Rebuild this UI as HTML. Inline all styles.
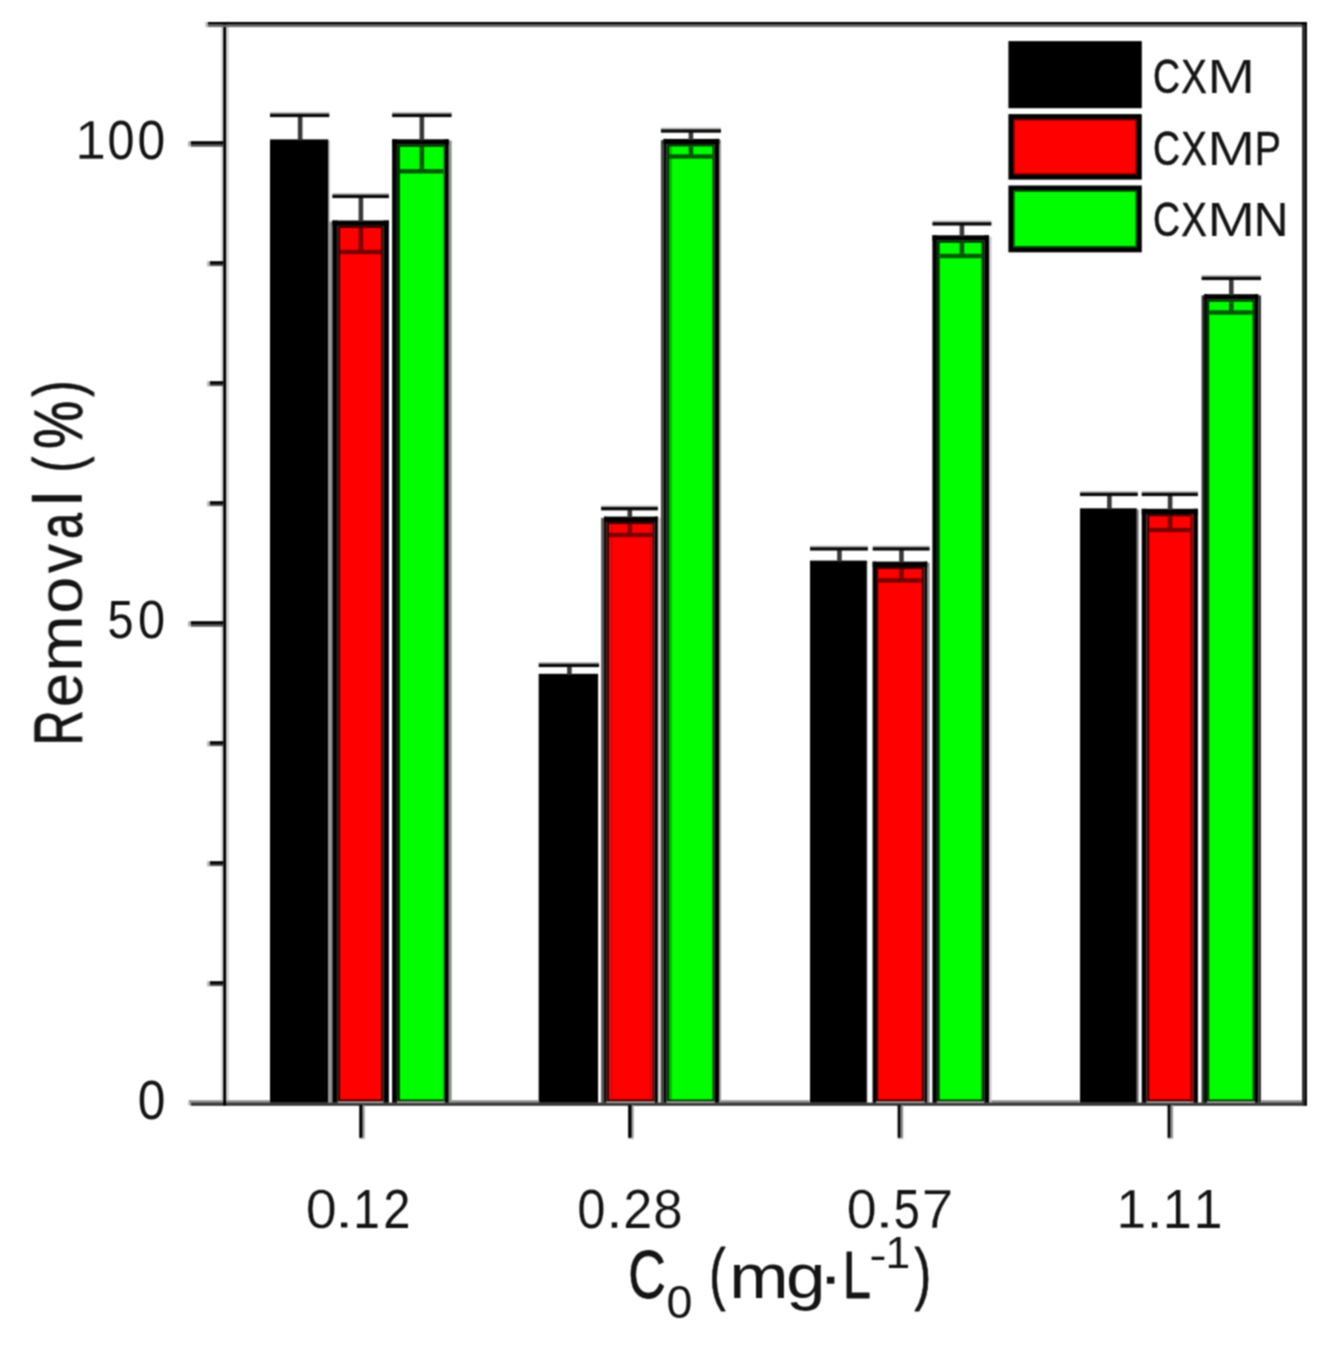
<!DOCTYPE html>
<html lang="en">
<head>
<meta charset="utf-8">
<title>Removal (%) vs C0 (mg·L-1)</title>
<style>
html,body{margin:0;padding:0;background:#fff;}
body{width:1329px;height:1345px;overflow:hidden;}
svg{display:block;font-family:"Liberation Sans", sans-serif;}
text{white-space:pre;}
</style>
</head>
<body>
<svg width="1329" height="1345" viewBox="0 0 1329 1345">
<defs><filter id="soft" color-interpolation-filters="sRGB" x="0" y="0" width="100%" height="100%" filterUnits="userSpaceOnUse" primitiveUnits="userSpaceOnUse"><feConvolveMatrix order="3" kernelMatrix="1 2 1 2 4 2 1 2 1" divisor="16" edgeMode="duplicate" preserveAlpha="false"/></filter></defs>
<rect x="0" y="0" width="1329" height="1345" fill="#fff"/>
<g filter="url(#soft)">
<rect x="270.00" y="139.40" width="58.30" height="963.40" fill="#000"/>
<rect x="328.30" y="221.50" width="4.00" height="881.30" fill="#949494"/>
<rect x="328.30" y="140.40" width="1.20" height="81.10" fill="#8c8c8c"/>
<rect x="332.30" y="220.50" width="5.40" height="882.30" fill="#000"/>
<rect x="383.40" y="220.50" width="5.50" height="882.30" fill="#000"/>
<rect x="332.30" y="220.50" width="56.60" height="5.40" fill="#000"/>
<rect x="337.70" y="225.70" width="45.70" height="875.90" fill="#400000"/>
<rect x="340.10" y="228.00" width="40.90" height="871.50" fill="#fe0000"/>
<rect x="392.10" y="139.30" width="4.80" height="963.50" fill="#000"/>
<rect x="444.60" y="139.30" width="4.20" height="963.50" fill="#000"/>
<rect x="448.80" y="140.50" width="2.80" height="962.30" fill="#8a8f8a"/>
<rect x="392.10" y="139.30" width="56.70" height="5.40" fill="#000"/>
<rect x="396.90" y="144.50" width="47.70" height="957.10" fill="#003600"/>
<rect x="400.00" y="146.80" width="43.60" height="952.70" fill="#00fe00"/>
<rect x="297.85" y="115.00" width="4.60" height="25.40" fill="#383838"/>
<rect x="270.00" y="112.00" width="59.30" height="1.90" fill="#bdbdbd"/>
<rect x="270.00" y="113.70" width="59.30" height="3.40" fill="#0a0a0a"/>
<rect x="358.60" y="196.00" width="4.60" height="25.50" fill="#383838"/>
<rect x="332.30" y="193.00" width="56.60" height="1.90" fill="#bdbdbd"/>
<rect x="332.30" y="194.70" width="56.60" height="3.40" fill="#0a0a0a"/>
<rect x="358.60" y="228.00" width="4.60" height="24.00" fill="#7a0000"/>
<rect x="340.10" y="249.80" width="40.90" height="4.40" fill="#7a0000"/>
<rect x="419.55" y="115.00" width="4.60" height="25.30" fill="#383838"/>
<rect x="392.10" y="112.00" width="59.50" height="1.90" fill="#bdbdbd"/>
<rect x="392.10" y="113.70" width="59.50" height="3.40" fill="#0a0a0a"/>
<rect x="419.55" y="146.80" width="4.60" height="24.50" fill="#005800"/>
<rect x="400.00" y="169.10" width="43.60" height="4.40" fill="#005800"/>
<rect x="538.70" y="673.80" width="59.40" height="429.00" fill="#000"/>
<rect x="601.10" y="517.80" width="3.00" height="585.00" fill="#585858"/>
<rect x="604.10" y="516.60" width="2.20" height="586.20" fill="#000"/>
<rect x="654.60" y="516.60" width="3.30" height="586.20" fill="#000"/>
<rect x="604.10" y="516.60" width="53.80" height="5.40" fill="#000"/>
<rect x="606.30" y="521.80" width="48.30" height="579.80" fill="#400000"/>
<rect x="609.00" y="524.10" width="2.60" height="575.40" fill="#dd1515"/>
<rect x="611.60" y="524.10" width="38.80" height="575.40" fill="#fe0000"/>
<rect x="650.40" y="524.10" width="2.20" height="575.40" fill="#dd1515"/>
<rect x="657.90" y="517.60" width="3.00" height="585.20" fill="#cfcfcf"/>
<rect x="660.90" y="140.10" width="2.60" height="962.70" fill="#444"/>
<rect x="663.50" y="138.90" width="3.00" height="963.90" fill="#000"/>
<rect x="714.50" y="138.90" width="4.90" height="963.90" fill="#000"/>
<rect x="719.40" y="140.10" width="1.60" height="962.70" fill="#9a9a9a"/>
<rect x="663.50" y="138.90" width="55.90" height="5.40" fill="#000"/>
<rect x="666.50" y="144.10" width="48.00" height="957.50" fill="#003600"/>
<rect x="669.20" y="146.40" width="2.60" height="953.10" fill="#00c400"/>
<rect x="671.80" y="146.40" width="40.70" height="953.10" fill="#00fe00"/>
<rect x="567.10" y="665.00" width="4.60" height="9.80" fill="#383838"/>
<rect x="538.70" y="662.00" width="60.40" height="1.90" fill="#bdbdbd"/>
<rect x="538.70" y="663.70" width="60.40" height="3.40" fill="#0a0a0a"/>
<rect x="627.50" y="508.30" width="4.60" height="9.30" fill="#383838"/>
<rect x="601.10" y="505.30" width="56.80" height="1.90" fill="#bdbdbd"/>
<rect x="601.10" y="507.00" width="56.80" height="3.40" fill="#0a0a0a"/>
<rect x="627.50" y="524.10" width="4.60" height="10.90" fill="#7a0000"/>
<rect x="609.00" y="532.80" width="43.60" height="4.40" fill="#7a0000"/>
<rect x="688.65" y="130.60" width="4.60" height="9.30" fill="#383838"/>
<rect x="660.90" y="127.60" width="60.10" height="1.90" fill="#bdbdbd"/>
<rect x="660.90" y="129.30" width="60.10" height="3.40" fill="#0a0a0a"/>
<rect x="688.65" y="146.40" width="4.60" height="10.10" fill="#005800"/>
<rect x="669.20" y="154.30" width="43.30" height="4.40" fill="#005800"/>
<rect x="810.00" y="560.60" width="56.90" height="542.20" fill="#000"/>
<rect x="866.90" y="562.60" width="1.10" height="540.20" fill="#d8d8d8"/>
<rect x="872.00" y="562.60" width="1.10" height="540.20" fill="#d0d0d0"/>
<rect x="866.90" y="561.60" width="1.20" height="1.00" fill="#8c8c8c"/>
<rect x="872.70" y="561.60" width="3.30" height="541.20" fill="#000"/>
<rect x="924.50" y="561.60" width="2.80" height="541.20" fill="#000"/>
<rect x="927.30" y="562.80" width="2.30" height="540.00" fill="#888"/>
<rect x="872.70" y="561.60" width="54.60" height="5.40" fill="#000"/>
<rect x="876.00" y="566.80" width="48.50" height="534.80" fill="#400000"/>
<rect x="878.20" y="569.10" width="43.50" height="530.40" fill="#fe0000"/>
<rect x="932.40" y="235.30" width="4.50" height="867.50" fill="#000"/>
<rect x="984.30" y="235.30" width="4.70" height="867.50" fill="#000"/>
<rect x="989.00" y="236.50" width="2.40" height="866.30" fill="#c4c4c4"/>
<rect x="932.40" y="235.30" width="56.60" height="5.40" fill="#000"/>
<rect x="936.90" y="240.50" width="47.40" height="861.10" fill="#003600"/>
<rect x="939.70" y="242.80" width="41.80" height="856.70" fill="#00fe00"/>
<rect x="837.15" y="548.50" width="4.60" height="13.10" fill="#383838"/>
<rect x="810.00" y="545.50" width="57.90" height="1.90" fill="#bdbdbd"/>
<rect x="810.00" y="547.20" width="57.90" height="3.40" fill="#0a0a0a"/>
<rect x="899.15" y="548.50" width="4.60" height="14.10" fill="#383838"/>
<rect x="872.70" y="545.50" width="56.90" height="1.90" fill="#bdbdbd"/>
<rect x="872.70" y="547.20" width="56.90" height="3.40" fill="#0a0a0a"/>
<rect x="899.15" y="569.10" width="4.60" height="11.40" fill="#7a0000"/>
<rect x="878.20" y="578.30" width="43.50" height="4.40" fill="#7a0000"/>
<rect x="959.60" y="223.50" width="4.60" height="12.80" fill="#383838"/>
<rect x="932.40" y="220.50" width="59.00" height="1.90" fill="#bdbdbd"/>
<rect x="932.40" y="222.20" width="59.00" height="3.40" fill="#0a0a0a"/>
<rect x="959.60" y="242.80" width="4.60" height="13.20" fill="#005800"/>
<rect x="939.70" y="253.80" width="41.80" height="4.40" fill="#005800"/>
<rect x="1080.00" y="508.30" width="56.80" height="594.50" fill="#000"/>
<rect x="1136.80" y="509.80" width="2.00" height="593.00" fill="#7a7a7a"/>
<rect x="1136.80" y="509.30" width="1.20" height="0.50" fill="#8c8c8c"/>
<rect x="1141.70" y="508.80" width="4.80" height="594.00" fill="#000"/>
<rect x="1193.40" y="508.80" width="4.50" height="594.00" fill="#000"/>
<rect x="1141.70" y="508.80" width="56.20" height="5.40" fill="#000"/>
<rect x="1146.50" y="514.00" width="46.90" height="587.60" fill="#400000"/>
<rect x="1149.30" y="516.30" width="40.70" height="583.20" fill="#fe0000"/>
<rect x="1190.00" y="514.00" width="3.40" height="587.60" fill="#8a0000"/>
<rect x="1201.60" y="295.40" width="2.50" height="807.40" fill="#2c322c"/>
<rect x="1204.10" y="294.20" width="2.80" height="808.60" fill="#000"/>
<rect x="1254.90" y="294.20" width="3.40" height="808.60" fill="#000"/>
<rect x="1258.30" y="295.40" width="2.70" height="807.40" fill="#333"/>
<rect x="1204.10" y="294.20" width="54.20" height="5.40" fill="#000"/>
<rect x="1206.90" y="299.40" width="48.00" height="802.20" fill="#003600"/>
<rect x="1209.20" y="301.70" width="43.40" height="797.80" fill="#00fe00"/>
<rect x="1107.10" y="494.00" width="4.60" height="15.30" fill="#383838"/>
<rect x="1080.00" y="491.00" width="57.80" height="1.90" fill="#bdbdbd"/>
<rect x="1080.00" y="492.70" width="57.80" height="3.40" fill="#0a0a0a"/>
<rect x="1167.80" y="494.00" width="4.60" height="15.80" fill="#383838"/>
<rect x="1141.70" y="491.00" width="56.20" height="1.90" fill="#bdbdbd"/>
<rect x="1141.70" y="492.70" width="56.20" height="3.40" fill="#0a0a0a"/>
<rect x="1167.80" y="516.30" width="4.60" height="13.70" fill="#7a0000"/>
<rect x="1149.30" y="527.80" width="40.70" height="4.40" fill="#7a0000"/>
<rect x="1229.00" y="278.00" width="4.60" height="17.20" fill="#383838"/>
<rect x="1201.60" y="275.00" width="59.40" height="1.90" fill="#bdbdbd"/>
<rect x="1201.60" y="276.70" width="59.40" height="3.40" fill="#0a0a0a"/>
<rect x="1229.00" y="301.70" width="4.60" height="10.80" fill="#005800"/>
<rect x="1209.20" y="310.30" width="43.40" height="4.40" fill="#005800"/>
<rect x="188.60" y="1100.20" width="81.30" height="2.70" fill="#909090"/>
<rect x="451.50" y="1100.20" width="87.70" height="2.70" fill="#909090"/>
<rect x="720.80" y="1100.20" width="88.90" height="2.70" fill="#909090"/>
<rect x="991.30" y="1100.20" width="88.30" height="2.70" fill="#909090"/>
<rect x="1261.20" y="1100.20" width="45.80" height="2.70" fill="#909090"/>
<rect x="188.20" y="1102.70" width="2.60" height="2.90" fill="#bbbbbb"/>
<rect x="190.80" y="1102.60" width="1116.20" height="3.20" fill="#383838"/>
<rect x="220.90" y="21.60" width="2.30" height="1078.60" fill="#d6d6d6"/>
<rect x="226.10" y="21.60" width="2.70" height="1078.60" fill="#d0d0d0"/>
<rect x="223.20" y="22.00" width="2.90" height="1083.60" fill="#000"/>
<rect x="1302.00" y="22.00" width="2.20" height="1083.60" fill="#333"/>
<rect x="1304.20" y="22.00" width="2.80" height="1083.60" fill="#0a0a0a"/>
<rect x="208.00" y="22.00" width="1099.00" height="2.70" fill="#000"/>
<rect x="208.00" y="24.70" width="1094.00" height="2.40" fill="#6c6c6c"/>
<rect x="205.40" y="22.00" width="2.60" height="5.10" fill="#bbbbbb"/>
<rect x="207.10" y="981.20" width="2.80" height="5.20" fill="#b4b4b4"/>
<rect x="209.90" y="981.20" width="13.30" height="2.80" fill="#000"/>
<rect x="209.90" y="984.00" width="13.30" height="2.10" fill="#505050"/>
<rect x="207.10" y="861.20" width="2.80" height="5.20" fill="#b4b4b4"/>
<rect x="209.90" y="861.20" width="13.30" height="2.80" fill="#000"/>
<rect x="209.90" y="864.00" width="13.30" height="2.10" fill="#505050"/>
<rect x="207.10" y="741.20" width="2.80" height="5.20" fill="#b4b4b4"/>
<rect x="209.90" y="741.20" width="13.30" height="2.80" fill="#000"/>
<rect x="209.90" y="744.00" width="13.30" height="2.10" fill="#505050"/>
<rect x="188.00" y="621.20" width="2.80" height="5.20" fill="#b4b4b4"/>
<rect x="190.80" y="621.20" width="32.40" height="2.80" fill="#000"/>
<rect x="190.80" y="624.00" width="32.40" height="2.70" fill="#505050"/>
<rect x="207.10" y="501.20" width="2.80" height="5.20" fill="#b4b4b4"/>
<rect x="209.90" y="501.20" width="13.30" height="2.80" fill="#000"/>
<rect x="209.90" y="504.00" width="13.30" height="2.10" fill="#505050"/>
<rect x="207.10" y="381.20" width="2.80" height="5.20" fill="#b4b4b4"/>
<rect x="209.90" y="381.20" width="13.30" height="2.80" fill="#000"/>
<rect x="209.90" y="384.00" width="13.30" height="2.10" fill="#505050"/>
<rect x="207.10" y="261.20" width="2.80" height="5.20" fill="#b4b4b4"/>
<rect x="209.90" y="261.20" width="13.30" height="2.80" fill="#000"/>
<rect x="209.90" y="264.00" width="13.30" height="2.10" fill="#505050"/>
<rect x="188.00" y="141.20" width="2.80" height="5.20" fill="#b4b4b4"/>
<rect x="190.80" y="141.20" width="32.40" height="2.80" fill="#000"/>
<rect x="190.80" y="144.00" width="32.40" height="2.70" fill="#505050"/>
<rect x="359.25" y="1105.00" width="2.85" height="32.90" fill="#000"/>
<rect x="362.10" y="1105.00" width="1.30" height="32.90" fill="#4a4a4a"/>
<rect x="363.40" y="1105.00" width="1.40" height="32.90" fill="#9a9a9a"/>
<rect x="359.25" y="1137.90" width="5.55" height="1.30" fill="#c8c8c8"/>
<rect x="628.15" y="1105.00" width="2.85" height="32.90" fill="#000"/>
<rect x="631.00" y="1105.00" width="1.30" height="32.90" fill="#4a4a4a"/>
<rect x="632.30" y="1105.00" width="1.40" height="32.90" fill="#9a9a9a"/>
<rect x="628.15" y="1137.90" width="5.55" height="1.30" fill="#c8c8c8"/>
<rect x="897.65" y="1105.00" width="2.85" height="32.90" fill="#000"/>
<rect x="900.50" y="1105.00" width="1.30" height="32.90" fill="#4a4a4a"/>
<rect x="901.80" y="1105.00" width="1.40" height="32.90" fill="#9a9a9a"/>
<rect x="897.65" y="1137.90" width="5.55" height="1.30" fill="#c8c8c8"/>
<rect x="1167.55" y="1105.00" width="2.85" height="32.90" fill="#000"/>
<rect x="1170.40" y="1105.00" width="1.30" height="32.90" fill="#4a4a4a"/>
<rect x="1171.70" y="1105.00" width="1.40" height="32.90" fill="#9a9a9a"/>
<rect x="1167.55" y="1137.90" width="5.55" height="1.30" fill="#c8c8c8"/>
<rect x="1008.40" y="41.10" width="133.40" height="67.10" fill="#000"/>
<rect x="1008.40" y="114.10" width="133.40" height="65.50" fill="#000"/>
<rect x="1013.00" y="118.70" width="124.20" height="56.30" fill="#6a0000"/>
<rect x="1014.80" y="120.50" width="120.60" height="52.70" fill="#fe0000"/>
<rect x="1008.40" y="185.50" width="133.40" height="66.80" fill="#000"/>
<rect x="1013.00" y="190.10" width="124.20" height="57.60" fill="#005a00"/>
<rect x="1014.80" y="191.90" width="120.60" height="54.00" fill="#00fe00"/>
<text fill="#141414" stroke-linejoin="round"><tspan x="1153.12" y="93.00" font-size="48.80" textLength="26.99" lengthAdjust="spacingAndGlyphs" stroke="#141414" stroke-width="0.63">C</tspan><tspan x="1181.13" y="93.00" font-size="48.80" textLength="25.57" lengthAdjust="spacingAndGlyphs" stroke="#141414" stroke-width="0.59">X</tspan><tspan x="1207.28" y="93.00" font-size="48.80" textLength="47.94" lengthAdjust="spacingAndGlyphs" stroke="#fff" stroke-width="0.20">M</tspan></text>
<text fill="#141414" stroke-linejoin="round"><tspan x="1153.12" y="165.30" font-size="48.80" textLength="26.99" lengthAdjust="spacingAndGlyphs" stroke="#141414" stroke-width="0.63">C</tspan><tspan x="1181.13" y="165.30" font-size="48.80" textLength="25.57" lengthAdjust="spacingAndGlyphs" stroke="#141414" stroke-width="0.59">X</tspan><tspan x="1207.28" y="165.30" font-size="48.80" textLength="47.94" lengthAdjust="spacingAndGlyphs" stroke="#fff" stroke-width="0.20">M</tspan><tspan x="1254.74" y="165.30" font-size="48.80" textLength="26.26" lengthAdjust="spacingAndGlyphs" stroke="#141414" stroke-width="0.54">P</tspan></text>
<text fill="#141414" stroke-linejoin="round"><tspan x="1153.12" y="236.10" font-size="48.80" textLength="26.99" lengthAdjust="spacingAndGlyphs" stroke="#141414" stroke-width="0.63">C</tspan><tspan x="1181.13" y="236.10" font-size="48.80" textLength="25.57" lengthAdjust="spacingAndGlyphs" stroke="#141414" stroke-width="0.59">X</tspan><tspan x="1207.28" y="236.10" font-size="48.80" textLength="47.94" lengthAdjust="spacingAndGlyphs" stroke="#fff" stroke-width="0.20">M</tspan><tspan x="1253.86" y="236.10" font-size="48.80" textLength="34.66" lengthAdjust="spacingAndGlyphs" stroke="#141414" stroke-width="0.19">N</tspan></text>
<text fill="#141414" stroke-linejoin="round"><tspan x="75.09" y="158.95" font-size="55.79" textLength="30.90" lengthAdjust="spacingAndGlyphs" stroke="#fff" stroke-width="0.36">1</tspan><tspan x="107.40" y="158.95" font-size="55.79" textLength="26.99" lengthAdjust="spacingAndGlyphs">0</tspan><tspan x="137.56" y="158.95" font-size="55.79" textLength="27.69" lengthAdjust="spacingAndGlyphs">0</tspan></text>
<text fill="#141414" stroke-linejoin="round"><tspan x="107.43" y="638.17" font-size="54.52" textLength="26.04" lengthAdjust="spacingAndGlyphs">5</tspan><tspan x="137.90" y="638.17" font-size="54.52" textLength="27.11" lengthAdjust="spacingAndGlyphs">0</tspan></text>
<text fill="#141414" stroke-linejoin="round"><tspan x="137.66" y="1118.96" font-size="54.80" textLength="27.69" lengthAdjust="spacingAndGlyphs">0</tspan></text>
<text fill="#141414" stroke-linejoin="round"><tspan x="305.74" y="1227.75" font-size="55.79" textLength="31.03" lengthAdjust="spacingAndGlyphs" stroke="#fff" stroke-width="0.37">0</tspan><tspan x="332.36" y="1227.75" font-size="55.79" textLength="23.88" lengthAdjust="spacingAndGlyphs" stroke="#fff" stroke-width="1.18">.</tspan><tspan x="353.16" y="1227.75" font-size="55.79" textLength="26.57" lengthAdjust="spacingAndGlyphs">1</tspan><tspan x="383.24" y="1227.75" font-size="55.79" textLength="27.22" lengthAdjust="spacingAndGlyphs">2</tspan></text>
<text fill="#141414" stroke-linejoin="round"><tspan x="577.33" y="1227.75" font-size="55.79" textLength="28.23" lengthAdjust="spacingAndGlyphs" stroke="#fff" stroke-width="0.17">0</tspan><tspan x="605.18" y="1227.75" font-size="55.79" textLength="18.33" lengthAdjust="spacingAndGlyphs" stroke="#fff" stroke-width="0.58">.</tspan><tspan x="623.16" y="1227.75" font-size="55.79" textLength="29.09" lengthAdjust="spacingAndGlyphs" stroke="#fff" stroke-width="0.23">2</tspan><tspan x="653.29" y="1227.75" font-size="55.79" textLength="29.33" lengthAdjust="spacingAndGlyphs" stroke="#fff" stroke-width="0.25">8</tspan></text>
<text fill="#141414" stroke-linejoin="round"><tspan x="846.76" y="1227.75" font-size="55.79" textLength="29.88" lengthAdjust="spacingAndGlyphs" stroke="#fff" stroke-width="0.29">0</tspan><tspan x="872.72" y="1227.75" font-size="55.79" textLength="23.45" lengthAdjust="spacingAndGlyphs" stroke="#fff" stroke-width="1.14">.</tspan><tspan x="893.63" y="1227.75" font-size="55.79" textLength="26.04" lengthAdjust="spacingAndGlyphs">5</tspan><tspan x="921.69" y="1227.75" font-size="55.79" textLength="31.57" lengthAdjust="spacingAndGlyphs" stroke="#fff" stroke-width="0.41">7</tspan></text>
<text fill="#141414" stroke-linejoin="round"><tspan x="1116.61" y="1227.75" font-size="55.79" textLength="29.62" lengthAdjust="spacingAndGlyphs" stroke="#fff" stroke-width="0.26">1</tspan><tspan x="1145.32" y="1227.75" font-size="55.79" textLength="18.76" lengthAdjust="spacingAndGlyphs" stroke="#fff" stroke-width="0.63">.</tspan><tspan x="1162.71" y="1227.75" font-size="55.79" textLength="29.05" lengthAdjust="spacingAndGlyphs" stroke="#fff" stroke-width="0.22">1</tspan><tspan x="1193.41" y="1227.75" font-size="55.79" textLength="29.05" lengthAdjust="spacingAndGlyphs" stroke="#fff" stroke-width="0.22">1</tspan></text>
<text transform="translate(81.8 742.0) rotate(-90)" fill="#141414" stroke-linejoin="round"><tspan x="-3.52" y="0.00" font-size="68.00" textLength="35.39" lengthAdjust="spacingAndGlyphs" stroke="#141414" stroke-width="0.80">R</tspan><tspan x="34.72" y="0.00" font-size="63.50" textLength="34.28" lengthAdjust="spacingAndGlyphs" stroke="#141414" stroke-width="0.28">e</tspan><tspan x="69.97" y="0.00" font-size="63.50" textLength="56.83" lengthAdjust="spacingAndGlyphs">m</tspan><tspan x="128.19" y="0.00" font-size="63.50" textLength="37.22" lengthAdjust="spacingAndGlyphs">o</tspan><tspan x="169.12" y="0.00" font-size="63.50" textLength="28.97" lengthAdjust="spacingAndGlyphs" stroke="#141414" stroke-width="0.43">v</tspan><tspan x="203.02" y="0.00" font-size="63.50" textLength="25.98" lengthAdjust="spacingAndGlyphs" stroke="#141414" stroke-width="0.80">a</tspan><tspan x="235.49" y="0.00" font-size="67.80" textLength="16.18" lengthAdjust="spacingAndGlyphs">l</tspan><tspan font-size="60.00"> </tspan><tspan x="269.43" y="-2.30" font-size="67.50" textLength="15.95" lengthAdjust="spacingAndGlyphs" stroke="#141414" stroke-width="0.80">(</tspan><tspan x="293.06" y="0.00" font-size="68.30" textLength="48.27" lengthAdjust="spacingAndGlyphs" stroke="#141414" stroke-width="0.80">%</tspan><tspan x="345.31" y="-2.30" font-size="67.50" textLength="16.33" lengthAdjust="spacingAndGlyphs" stroke="#141414" stroke-width="0.80">)</tspan></text>
<text fill="#141414" stroke-linejoin="round"><tspan x="628.26" y="1298.20" font-size="69.00" textLength="37.52" lengthAdjust="spacingAndGlyphs" stroke="#141414" stroke-width="0.80">C</tspan><tspan x="666.48" y="1317.60" font-size="45.80" textLength="25.94" lengthAdjust="spacingAndGlyphs">0</tspan><tspan font-size="60.00"> </tspan><tspan x="709.16" y="1297.00" font-size="69.00" textLength="16.33" lengthAdjust="spacingAndGlyphs" stroke="#141414" stroke-width="0.80">(</tspan><tspan x="729.26" y="1298.20" font-size="63.50" textLength="59.44" lengthAdjust="spacingAndGlyphs">m</tspan><tspan x="786.01" y="1298.20" font-size="63.50" textLength="39.57" lengthAdjust="spacingAndGlyphs">g</tspan><tspan x="817.04" y="1298.80" font-size="68.00" textLength="27.57" lengthAdjust="spacingAndGlyphs" stroke="#fff" stroke-width="0.28">·</tspan><tspan x="842.85" y="1298.20" font-size="67.20" textLength="28.13" lengthAdjust="spacingAndGlyphs" stroke="#141414" stroke-width="0.80">L</tspan><tspan x="868.91" y="1269.70" font-size="43.50" textLength="17.79" lengthAdjust="spacingAndGlyphs" stroke="#fff" stroke-width="0.24">-</tspan><tspan x="885.41" y="1268.30" font-size="43.50" textLength="24.77" lengthAdjust="spacingAndGlyphs">1</tspan><tspan x="914.51" y="1297.00" font-size="69.00" textLength="16.70" lengthAdjust="spacingAndGlyphs" stroke="#141414" stroke-width="0.80">)</tspan></text>
</g>
</svg>
</body>
</html>
